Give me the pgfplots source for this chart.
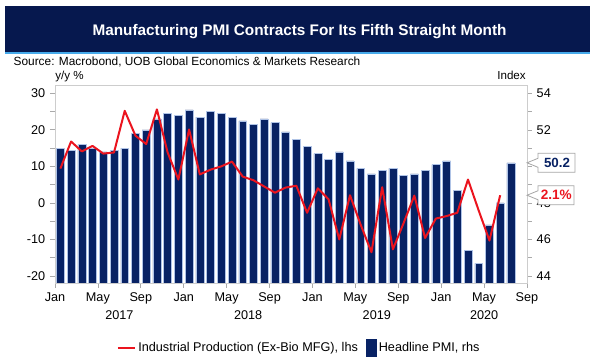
\documentclass[border=0pt]{standalone}
\usepackage{fontspec}
\setmainfont{Liberation Sans}
\usepackage{pgfplots}
\pgfplotsset{compat=1.18}
\definecolor{navy}{RGB}{8,34,100}
\definecolor{banner}{RGB}{6,24,78}
\definecolor{stripe}{RGB}{70,170,235}
\definecolor{axgray}{RGB}{205,205,205}
\definecolor{tickgray}{RGB}{170,170,170}
\definecolor{ipred}{RGB}{235,20,30}
\definecolor{baredge}{RGB}{175,195,230}

\pgfplotstableread{
x pmi
0.5 51.0
1.5 50.9
2.5 51.2
3.5 51.0
4.5 50.8
5.5 50.9
6.5 51.0
7.5 51.8
8.5 52.0
9.5 52.6
10.5 52.9
11.5 52.8
12.5 53.1
13.5 52.7
14.5 53.0
15.5 52.9
16.5 52.7
17.5 52.5
18.5 52.3
19.5 52.6
20.5 52.4
21.5 51.9
22.5 51.5
23.5 51.1
24.5 50.7
25.5 50.4
26.5 50.8
27.5 50.3
28.5 49.9
29.5 49.6
30.5 49.8
31.5 49.9
32.5 49.5
33.5 49.6
34.5 49.8
35.5 50.1
36.5 50.3
37.5 48.7
38.5 45.4
39.5 44.7
40.5 46.8
41.5 48.0
42.5 50.2
}\pmitable

\pgfplotstableread{
x ip
0.5 9.4
1.5 16.8
2.5 14.1
3.5 15.6
4.5 13.5
5.5 13.8
6.5 25.2
7.5 18.4
8.5 16.1
9.5 25.6
10.5 13.8
11.5 6.4
12.5 20.1
13.5 7.8
14.5 9.1
15.5 10.0
16.5 11.3
17.5 7.2
18.5 6.2
19.5 4.5
20.5 2.8
21.5 4.2
22.5 4.7
23.5 -2.7
24.5 4.0
25.5 1.0
26.5 -10.0
27.5 2.1
28.5 -6.0
29.5 -13.5
30.5 4.3
31.5 -12.7
32.5 -5.5
33.5 2.0
34.5 -9.6
35.5 -4.3
36.5 -3.6
37.5 -2.7
38.5 6.4
39.5 -2.1
40.5 -10.3
41.5 2.1
}\iptable

\begin{document}
\begin{tikzpicture}
% bars, right axis
\begin{axis}[
  scale only axis, width=354pt, height=148.5pt,
  at={(41.25pt,57.75pt)}, anchor=south west,
  xmin=0, xmax=44, ymin=43.62, ymax=54.46,
  axis line style={axgray},
  xtick={0,4,...,44},
  xticklabels={Jan,May,Sep,Jan,May,Sep,Jan,May,Sep,Jan,May,Sep},
  xtick pos=bottom,
  ytick={44,46,48,50,52,54},
  yticklabels={44,46,48,{},52,54},
  minor ytick={45,47,49,51,53},
  ytick pos=right, yticklabel pos=right,
  tick align=outside,
  major tick length=3.75pt, minor tick length=3.75pt,
  tick style={tickgray, line width=0.5pt},
  ticklabel style={font=\fontsize{9.5}{11}\selectfont},
  ybar, bar width=0.74,
  clip=true,
]
\addplot[fill=navy, draw=baredge, line width=0.35pt] table[x=x,y=pmi] {\pmitable};
\coordinate (c1) at (axis cs:44,50.2);
\end{axis}

% line, left axis
\begin{axis}[
  scale only axis, width=354pt, height=148.5pt,
  at={(41.25pt,57.75pt)}, anchor=south west,
  xmin=0, xmax=44, ymin=-21.92, ymax=32.27,
  axis x line=none, axis y line*=left,
  axis line style={axgray},
  ytick={-20,-10,0,10,20,30},
  yticklabels={-20,-10,0,10,20,30},
  minor ytick={-15,-5,5,15,25},
  tick align=outside,
  major tick length=3.75pt, minor tick length=3.75pt,
  tick style={tickgray, line width=0.5pt},
  ticklabel style={font=\fontsize{9.5}{11}\selectfont},
  legend style={at={(0.518,-0.328)}, anchor=center, draw=none, fill=none,
    legend columns=2, font=\fontsize{9.5}{11}\selectfont,
    /tikz/every even column/.append style={column sep=4pt}},
]
\addplot[ipred, line width=1.5pt, line join=round,
  legend image code/.code={\draw[ipred,line width=1.6pt] (0pt,0pt)--(12.5pt,0pt);}]
  table[x=x,y=ip] {\iptable};
\addlegendentry{Industrial Production (Ex-Bio MFG), lhs}
\addlegendimage{legend image code/.code={\fill[navy] (0pt,-6.2pt) rectangle (7.3pt,-0.35pt); \fill[navy] (0pt,0.35pt) rectangle (7.3pt,6.2pt);}}
\addlegendentry{Headline PMI, rhs}
\coordinate (c2) at (axis cs:44,2.1);
\end{axis}

\begin{scope}[x=0.75pt,y=0.75pt]
% banner
\fill[banner] (4.6,354.3) rectangle (590,308.3);
\fill[stripe] (4.6,308.3) rectangle (590,305.7);
\node[anchor=base, text=white, inner sep=0, font=\fontsize{11.5}{13}\selectfont\bfseries] at (299.5,324.8) {Manufacturing PMI Contracts For Its Fifth Straight Month};
\node[anchor=base west, inner sep=0, font=\fontsize{8.9}{10}\selectfont] at (13.4,294) {Source: Macrobond, UOB Global Economics \& Markets Research};

% axis unit labels
\node[anchor=base west, inner sep=0, font=\fontsize{8.7}{10}\selectfont] at (55,280) {y/y \%};
\node[anchor=base east, inner sep=0, font=\fontsize{8.7}{10}\selectfont] at (526,280) {Index};

% year labels
\node[anchor=base, inner sep=0, font=\fontsize{9.5}{11}\selectfont] at (119.4,40) {2017};
\node[anchor=base, inner sep=0, font=\fontsize{9.5}{11}\selectfont] at (248.1,40) {2018};
\node[anchor=base, inner sep=0, font=\fontsize{9.5}{11}\selectfont] at (376.8,40) {2019};
\node[anchor=base, inner sep=0, font=\fontsize{9.5}{11}\selectfont] at (484.1,40) {2020};

% callouts
\draw[gray!70, fill=white, line width=0.6pt] (c1) -- ++(11,4.5) -- ++(0,5) -- ++(37,0) -- ++(0,-19) -- ++(-37,0) -- ++(0,5) -- cycle;
\node[font=\fontsize{10}{12}\selectfont\bfseries, text=navy, inner sep=0] at ([xshift=22.5pt]c1) {50.2};
\draw[gray!70, fill=white, line width=0.6pt] (c2) -- ++(11,4.5) -- ++(0,5) -- ++(36,0) -- ++(0,-19) -- ++(-36,0) -- ++(0,5) -- cycle;
\node[font=\fontsize{10.2}{12}\selectfont\bfseries, text=ipred, inner sep=0] at ([xshift=22pt]c2) {2.1\%};

\pgfresetboundingbox
\path[use as bounding box] (0,0) rectangle (600,360);
\end{scope}
\end{tikzpicture}
\end{document}
